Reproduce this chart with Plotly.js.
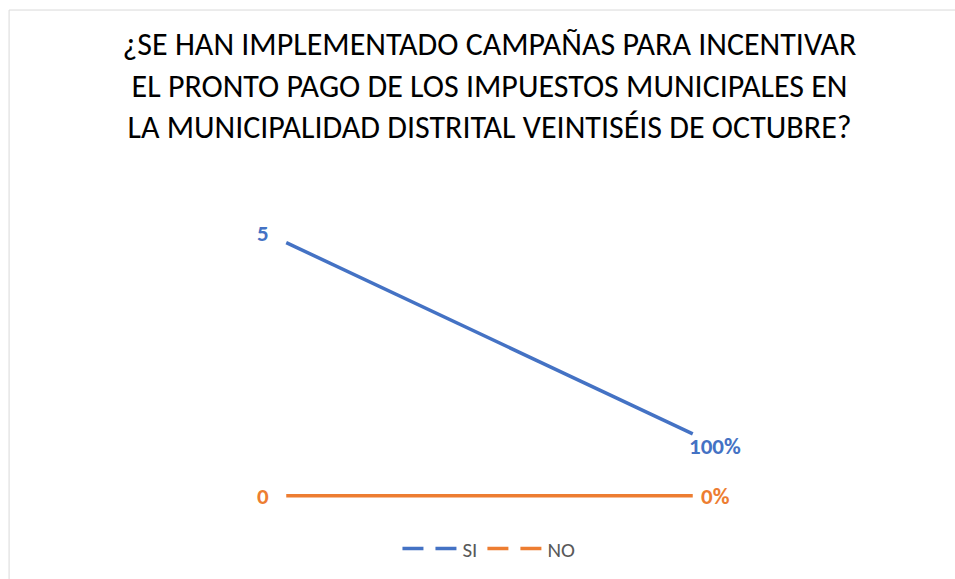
<!DOCTYPE html>
<html>
<head>
<meta charset="utf-8">
<script src="https://cdn.plot.ly/plotly-3.0.1.min.js"></script>
<style>
html,body{margin:0;padding:0;background:#fff;}
#chart{width:955px;height:579px;}
</style>
</head>
<body>
<div id="chart"></div>
<script>
const categories = ["A", "B"];
const siValues = [5, 1.22];
const noValues = [0, 0];
const siLabels = ["5", "100%"];
const noLabels = ["0", "0%"];
const seriesNames = ["SI", "NO"];
const titleText = "¿SE HAN IMPLEMENTADO CAMPAÑAS PARA INCENTIVAR<br>EL PRONTO PAGO DE LOS IMPUESTOS MUNICIPALES EN<br>LA MUNICIPALIDAD DISTRITAL VEINTISÉIS DE OCTUBRE?";

const blue = "#4472C4", orange = "#ED7D31";
const fontFam = "Carlito, Calibri, 'Open Sans', sans-serif";

const traces = [
  {x: categories, y: siValues, type: "scatter", mode: "lines", line: {color: blue, width: 3.5},
   showlegend: false, cliponaxis: false, hoverinfo: "skip"},
  {x: categories, y: noValues, type: "scatter", mode: "lines", line: {color: orange, width: 3.5},
   showlegend: false, cliponaxis: false, hoverinfo: "skip"},
  {x: [null], y: [null], type: "scatter", mode: "lines", name: seriesNames[0], line: {color: blue, width: 3.5, dash: "21px,12px"}},
  {x: [null], y: [null], type: "scatter", mode: "lines", name: seriesNames[1], line: {color: orange, width: 3.5, dash: "21px,12px"}}
];

// data labels as annotations anchored at the data points
const labelFont = (c) => ({color: c, size: 23, family: fontFam, weight: "bold"});
const annotations = [
  {x: categories[0], y: siValues[0], text: siLabels[0], showarrow: false, xanchor: "right", yanchor: "bottom", xshift: -15, yshift: -6, font: labelFont(blue)},
  {x: categories[1], y: siValues[1], text: siLabels[1], showarrow: false, xanchor: "left", yanchor: "top", xshift: -6, yshift: 4, font: labelFont(blue)},
  {x: categories[0], y: noValues[0], text: noLabels[0], showarrow: false, xanchor: "right", yanchor: "middle", xshift: -15, yshift: 0, font: labelFont(orange)},
  {x: categories[1], y: noValues[1], text: noLabels[1], showarrow: false, xanchor: "left", yanchor: "middle", xshift: 6, yshift: 0, font: labelFont(orange)}
];

const layout = {
  width: 955, height: 579,
  paper_bgcolor: "#fff", plot_bgcolor: "#fff",
  margin: {l: 82.5, r: 58.5, t: 192.4, b: 57.7},
  title: {text: titleText, font: {family: fontFam, size: 32, color: "#000"},
          x: 0.5, xanchor: "center", xref: "paper", y: 0.905, yanchor: "top", yref: "container"},
  xaxis: {type: "category", range: [-0.5, 1.5], visible: false, fixedrange: true},
  yaxis: {range: [-0.5, 6], visible: false, fixedrange: true},
  showlegend: true,
  legend: {orientation: "h", x: 0.512, xanchor: "center", y: 0.052, yanchor: "middle", xref: "container", yref: "container",
           font: {family: fontFam, size: 21, color: "#595959"}, tracegroupgap: 0, itemwidth: 55},
  annotations: annotations,
  shapes: [{type: "rect", xref: "paper", yref: "paper", x0: (8.5 - 82.5) / 814, x1: 1.2,
            y0: -0.5, y1: (521.3 - 10.5) / 328.9, line: {color: "#d9d9d9", width: 1}, layer: "below"}]
};

Plotly.newPlot("chart", traces, layout, {displayModeBar: false, staticPlot: true});
</script>
</body>
</html>
